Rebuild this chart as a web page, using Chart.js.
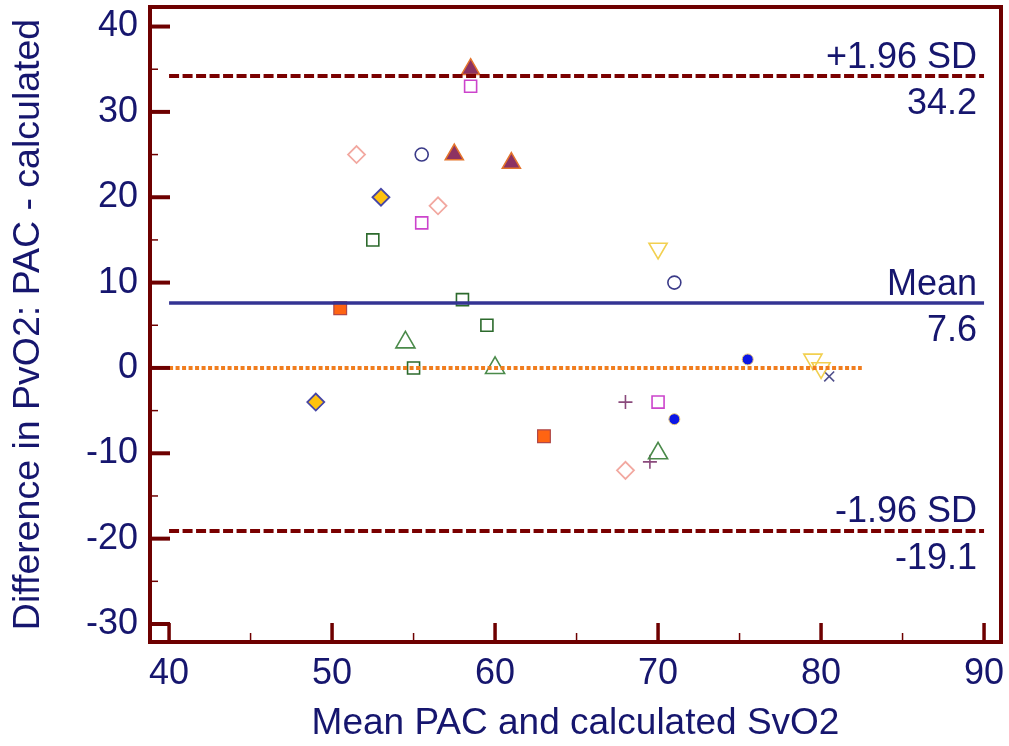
<!DOCTYPE html>
<html>
<head>
<meta charset="utf-8">
<script src="https://cdn.jsdelivr.net/npm/chart.js@4.4.1/dist/chart.umd.min.js"></script>
<style>
  html, body { margin: 0; padding: 0; background: #ffffff; }
  #wrap { width: 1009px; height: 746px; }
</style>
</head>
<body>
<div id="wrap"><canvas id="chart" width="1009" height="746"></canvas></div>
<script>
// Bland-Altman plot: PAC vs calculated SvO2
// Each marker group: mean of the two methods (x) and their difference (y)
const triPurpleX  = [58.5, 57.5, 61];
const triPurpleY  = [35, 25, 24];
const sqMagentaX  = [58.5, 55.5, 70];
const sqMagentaY  = [33, 17, -4];
const diaPinkX    = [51.5, 56.5, 68];
const diaPinkY    = [25, 19, -12];
const circNavyX   = [55.5, 71];
const circNavyY   = [25, 10];
const diaGoldX    = [53, 49];
const diaGoldY    = [20, -4];
const sqGreenX    = [52.5, 58, 59.5, 55];
const sqGreenY    = [15, 8, 5, 0];
const triDownX    = [70, 79.5, 80];
const triDownY    = [14, 1, 0];
const sqOrangeX   = [50.5, 63];
const sqOrangeY   = [7, -8];
const triGreenX   = [54.5, 60, 70];
const triGreenY   = [3, 0, -10];
const dotBlueX    = [75.5, 71];
const dotBlueY    = [1, -6];
const crossNavyX  = [80.5];
const crossNavyY  = [-1];
const plusPurpleX = [68, 69.5];
const plusPurpleY = [-4, -11];

// Summary statistics
const meanDiff = 7.6;
const upperLoA = 34.2;
const lowerLoA = -19.1;
const refSpan  = [40, 90];
const zeroSpan = [40, 82.5];

// Axis ticks
const xTicks = [40, 50, 60, 70, 80, 90];
const xMinor = [45, 55, 65, 75, 85];
const yTicks = [-30, -20, -10, 0, 10, 20, 30, 40];
const yMinor = [-25, -15, -5, 5, 15, 25, 35];

const FONT = '"Liberation Sans", Arial, Helvetica, sans-serif';
const TEXT = '#16166e';
const FRAME = '#6e0000';

const pts = (xs, ys) => xs.map((x, i) => ({ x: x, y: ys[i] }));
const hline = (span, v) => span.map(x => ({ x: x, y: v }));

function markerSet(xs, ys, style, opts) {
  return Object.assign({
    type: 'scatter',
    data: pts(xs, ys),
    pointStyle: style,
    order: 2
  }, opts);
}

function refLine(span, v, color, width, dash) {
  return {
    type: 'line',
    data: hline(span, v),
    borderColor: color,
    borderWidth: width,
    borderDash: dash,
    borderCapStyle: 'butt',
    pointRadius: 0,
    pointHoverRadius: 0,
    fill: false,
    tension: 0,
    order: 0
  };
}

const datasets = [
  refLine(refSpan, upperLoA, '#7a0000', 4, [10, 3.5]),
  refLine(refSpan, lowerLoA, '#7a0000', 4, [10, 3.5]),
  refLine(refSpan, meanDiff, '#333393', 3.5, []),
  refLine(zeroSpan, 0, '#f07d1e', 4, [4, 2.5]),
  markerSet(triPurpleX, triPurpleY, 'triangle', { pointRadius: 10.5, backgroundColor: '#8c3262', borderColor: '#e4742c', borderWidth: 1.5 }),
  markerSet(sqMagentaX, sqMagentaY, 'rect', { pointRadius: 8.5, backgroundColor: 'rgba(0,0,0,0)', borderColor: '#cc44cc', borderWidth: 1.6 }),
  markerSet(diaPinkX, diaPinkY, 'rectRot', { pointRadius: 8.5, backgroundColor: 'rgba(0,0,0,0)', borderColor: '#f2a8a0', borderWidth: 1.8 }),
  markerSet(circNavyX, circNavyY, 'circle', { pointRadius: 6.5, backgroundColor: 'rgba(0,0,0,0)', borderColor: '#3a3a88', borderWidth: 1.6 }),
  markerSet(diaGoldX, diaGoldY, 'rectRot', { pointRadius: 8.5, backgroundColor: '#ffc20e', borderColor: '#4646a6', borderWidth: 1.8 }),
  markerSet(sqGreenX, sqGreenY, 'rect', { pointRadius: 8.5, backgroundColor: 'rgba(0,0,0,0)', borderColor: '#2c6a2c', borderWidth: 1.6 }),
  markerSet(triDownX, triDownY, 'triangle', { pointRadius: 10.5, rotation: 180, backgroundColor: 'rgba(0,0,0,0)', borderColor: '#f2d050', borderWidth: 1.6 }),
  markerSet(sqOrangeX, sqOrangeY, 'rect', { pointRadius: 9, backgroundColor: '#ff6412', borderColor: '#b04848', borderWidth: 1.2 }),
  markerSet(triGreenX, triGreenY, 'triangle', { pointRadius: 11, backgroundColor: 'rgba(0,0,0,0)', borderColor: '#4a8a4a', borderWidth: 1.6 }),
  markerSet(dotBlueX, dotBlueY, 'circle', { pointRadius: 5.5, backgroundColor: '#0c16e6', borderColor: '#e8c878', borderWidth: 1 }),
  markerSet(crossNavyX, crossNavyY, 'crossRot', { pointRadius: 7, borderColor: '#50508c', borderWidth: 1.6 }),
  markerSet(plusPurpleX, plusPurpleY, 'cross', { pointRadius: 7, borderColor: '#8a4a7c', borderWidth: 1.6 })
];

// Frame with inward tick marks, drawn through the chart scales
const framePlugin = {
  id: 'frame',
  afterDraw(chart) {
    const { ctx, chartArea: a, scales: { x, y } } = chart;
    ctx.save();
    ctx.strokeStyle = FRAME;
    ctx.lineCap = 'butt';
    yTicks.forEach(v => {
      const py = y.getPixelForValue(v);
      ctx.lineWidth = 4;
      ctx.beginPath(); ctx.moveTo(a.left, py); ctx.lineTo(a.left + 20, py); ctx.stroke();
    });
    yMinor.forEach(v => {
      const py = y.getPixelForValue(v);
      ctx.lineWidth = 1.5;
      ctx.beginPath(); ctx.moveTo(a.left, py); ctx.lineTo(a.left + 8, py); ctx.stroke();
    });
    xTicks.forEach(v => {
      const px = x.getPixelForValue(v);
      ctx.lineWidth = 3.5;
      ctx.beginPath(); ctx.moveTo(px, a.bottom); ctx.lineTo(px, a.bottom - 19); ctx.stroke();
    });
    xMinor.forEach(v => {
      const px = x.getPixelForValue(v);
      ctx.lineWidth = 1.5;
      ctx.beginPath(); ctx.moveTo(px, a.bottom); ctx.lineTo(px, a.bottom - 9); ctx.stroke();
    });
    ctx.lineWidth = 4;
    ctx.strokeRect(a.left, a.top, a.right - a.left, a.bottom - a.top);
    ctx.restore();
  }
};

// Captions for the mean and limits of agreement
const captionPlugin = {
  id: 'captions',
  afterDatasetsDraw(chart) {
    const { ctx, scales: { x, y } } = chart;
    const px = x.getPixelForValue(refSpan[1]) - 7;
    const rows = [
      ['+1.96 SD', upperLoA],
      ['Mean', meanDiff],
      ['-1.96 SD', lowerLoA]
    ];
    ctx.save();
    ctx.font = '36px ' + FONT;
    ctx.fillStyle = TEXT;
    ctx.textAlign = 'right';
    ctx.textBaseline = 'alphabetic';
    rows.forEach(([name, v]) => {
      const py = y.getPixelForValue(v);
      ctx.fillText(name, px, py - 8.5);
      ctx.fillText(v.toFixed(1), px, py + 38);
    });
    ctx.restore();
  }
};

new Chart(document.getElementById('chart'), {
  type: 'scatter',
  data: { datasets: datasets },
  options: {
    responsive: false,
    animation: false,
    devicePixelRatio: 1,
    layout: { autoPadding: false, padding: { top: 7, right: 8, left: 0, bottom: 0 } },
    plugins: { legend: { display: false }, tooltip: { enabled: false } },
    scales: {
      x: {
        type: 'linear',
        min: 38.83,
        max: 91.04,
        afterBuildTicks: s => { s.ticks = xTicks.map(v => ({ value: v })); },
        afterFit: s => { s.height = 104; s.paddingLeft = 0; s.paddingRight = 0; },
        grid: { display: false, drawTicks: false },
        border: { display: false },
        ticks: { color: TEXT, font: { family: FONT, size: 36 }, padding: 10, maxRotation: 0, autoSkip: false },
        title: { display: true, text: 'Mean PAC and calculated SvO2', color: TEXT, font: { family: FONT, size: 37 }, padding: { top: 0, bottom: 0 } }
      },
      y: {
        type: 'linear',
        min: -32.11,
        max: 42.29,
        afterBuildTicks: s => { s.ticks = yTicks.map(v => ({ value: v })); },
        afterFit: s => { s.width = 150; s.paddingTop = 0; s.paddingBottom = 0; },
        grid: { display: false, drawTicks: false },
        border: { display: false },
        ticks: { color: TEXT, font: { family: FONT, size: 36 }, padding: 12, autoSkip: false },
        title: { display: true, text: 'Difference in PvO2: PAC - calculated', color: TEXT, font: { family: FONT, size: 37.5 }, padding: { top: 6, bottom: 0 } }
      }
    }
  },
  plugins: [framePlugin, captionPlugin]
});
</script>
</body>
</html>
